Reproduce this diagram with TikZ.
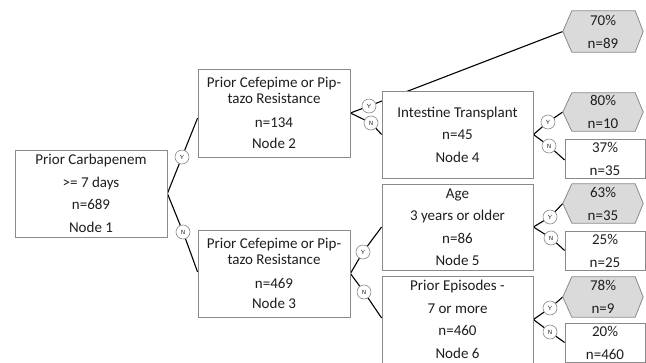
\documentclass[tikz,border=0pt]{standalone}
\usepackage{fontspec}
\setmainfont{Carlito}
\usetikzlibrary{backgrounds,calc}
\definecolor{boxline}{HTML}{8A8A8A}
\definecolor{leaffill}{HTML}{DADADA}
\definecolor{txt}{HTML}{1E1E1E}
\begin{document}
\begin{tikzpicture}[x=1pt,y=-1pt,
  box/.style={draw=boxline,line width=0.8pt,fill=white,inner sep=0pt,align=center,text=txt,
    font=\fontsize{15}{22.5}\selectfont,minimum width=#1},
  box/.default=151pt,
  leaf/.style={inner sep=0pt,align=center,text=txt,minimum width=80pt,
    font=\fontsize{15}{23}\selectfont},
  leafbox/.style={leaf,draw=boxline,line width=0.8pt,fill=white},
  hexpath/.style={draw=boxline,line width=0.8pt,fill=leaffill},
  yn/.style={circle,draw=boxline,line width=0.6pt,fill=white,minimum size=14pt,inner sep=0pt,
    font=\sffamily\fontsize{6}{6}\selectfont,text=txt},
  conn/.style={line width=1.1pt,black}]
\useasboundingbox (0,0) rectangle (646,362);
\clip (0,0) rectangle (646,362);

% decision nodes
\node[box=152pt,minimum height=87pt] (n1) at (91,193.5) {Prior Carbapenem\\>= 7 days\\n=689\\Node 1};
\node[box=152pt,minimum height=88pt] (n2) at (274,113) {Prior Cefepime or Pip-\\[-6.5pt]tazo Resistance\\[1.5pt]n=134\\[-2pt]Node 2};
\node[box=152pt,minimum height=87pt] (n3) at (274,273.5) {Prior Cefepime or Pip-\\[-6.5pt]tazo Resistance\\[1.5pt]n=469\\[-2pt]Node 3};
\node[box,minimum height=87pt] (n4) at (457.5,134.5) {Intestine Transplant\\n=45\\Node 4};
\node[box,minimum height=86pt] (n5) at (457.5,227) {Age\\3 years or older\\n=86\\Node 5};
\node[box,minimum height=87pt] (n6) at (457.5,319.5) {Prior Episodes -\\7 or more\\n=460\\Node 6};

% leaves
\node[leaf,minimum height=41pt] (l1) at (603,31.5) {70\%\\n=89};
\node[leaf,minimum height=38pt] (l2) at (603,112) {80\%\\n=10};
\node[leafbox,minimum height=39pt] (l3) at (605,158.5) {37\%\\n=35};
\node[leaf,minimum height=39pt] (l4) at (603,203.5) {63\%\\n=35};
\node[leafbox,minimum height=39pt] (l5) at (605,250.5) {25\%\\n=25};
\node[leaf,minimum height=40pt] (l6) at (603,297) {78\%\\n=9};
\node[leafbox,minimum height=39pt] (l7) at (605,342.5) {20\%\\n=460};

% yes / no markers
\node[yn] (c1y) at (182,157) {Y};
\node[yn] (c1n) at (183,232) {N};
\node[yn] (c2y) at (369,106) {Y};
\node[yn] (c2n) at (371,123) {N};
\node[yn] (c3y) at (363,252) {Y};
\node[yn] (c3n) at (364,292) {N};
\node[yn] (c4y) at (548,122) {Y};
\node[yn] (c4n) at (549,146) {N};
\node[yn] (c5y) at (550,217) {Y};
\node[yn] (c5n) at (551,238) {N};
\node[yn] (c6y) at (550,308) {Y};
\node[yn] (c6n) at (550,332) {N};

\begin{scope}[on background layer]
  % connectors
  \draw[conn] ($(n2.west)+(0,5)$) -- (c1y.center) -- (n1.east) -- (c1n.center) -- ($(n3.west)+(0,-1.5)$);
  \draw[conn] (l1.west) -- (c2y.center) -- (n2.east) -- (c2n.center) -- (n4.west);
  \draw[conn] (n5.west) -- (c3y.center) -- (n3.east) -- (c3n.center) -- ($(n6.west)+(0,-1.5)$);
  \draw[conn] (l2.west) -- (c4y.center) -- (n4.east) -- (c4n.center) -- ($(l3.west)+(0,1.5)$);
  \draw[conn] (l4.west) -- (c5y.center) -- (n5.east) -- (c5n.center) -- (l5.west);
  \draw[conn] (l6.west) -- (c6y.center) -- (n6.east) -- (c6n.center) -- (l7.west);
  % hexagonal leaves
  \foreach \h in {l1,l2,l4,l6}{
    \path[hexpath] (\h.west) -- ([xshift=9pt]\h.north west) -- ([xshift=-8pt]\h.north east)
      -- (\h.east) -- ([xshift=-8pt]\h.south east) -- ([xshift=9pt]\h.south west) -- cycle;
  }
\end{scope}
\end{tikzpicture}
\end{document}
